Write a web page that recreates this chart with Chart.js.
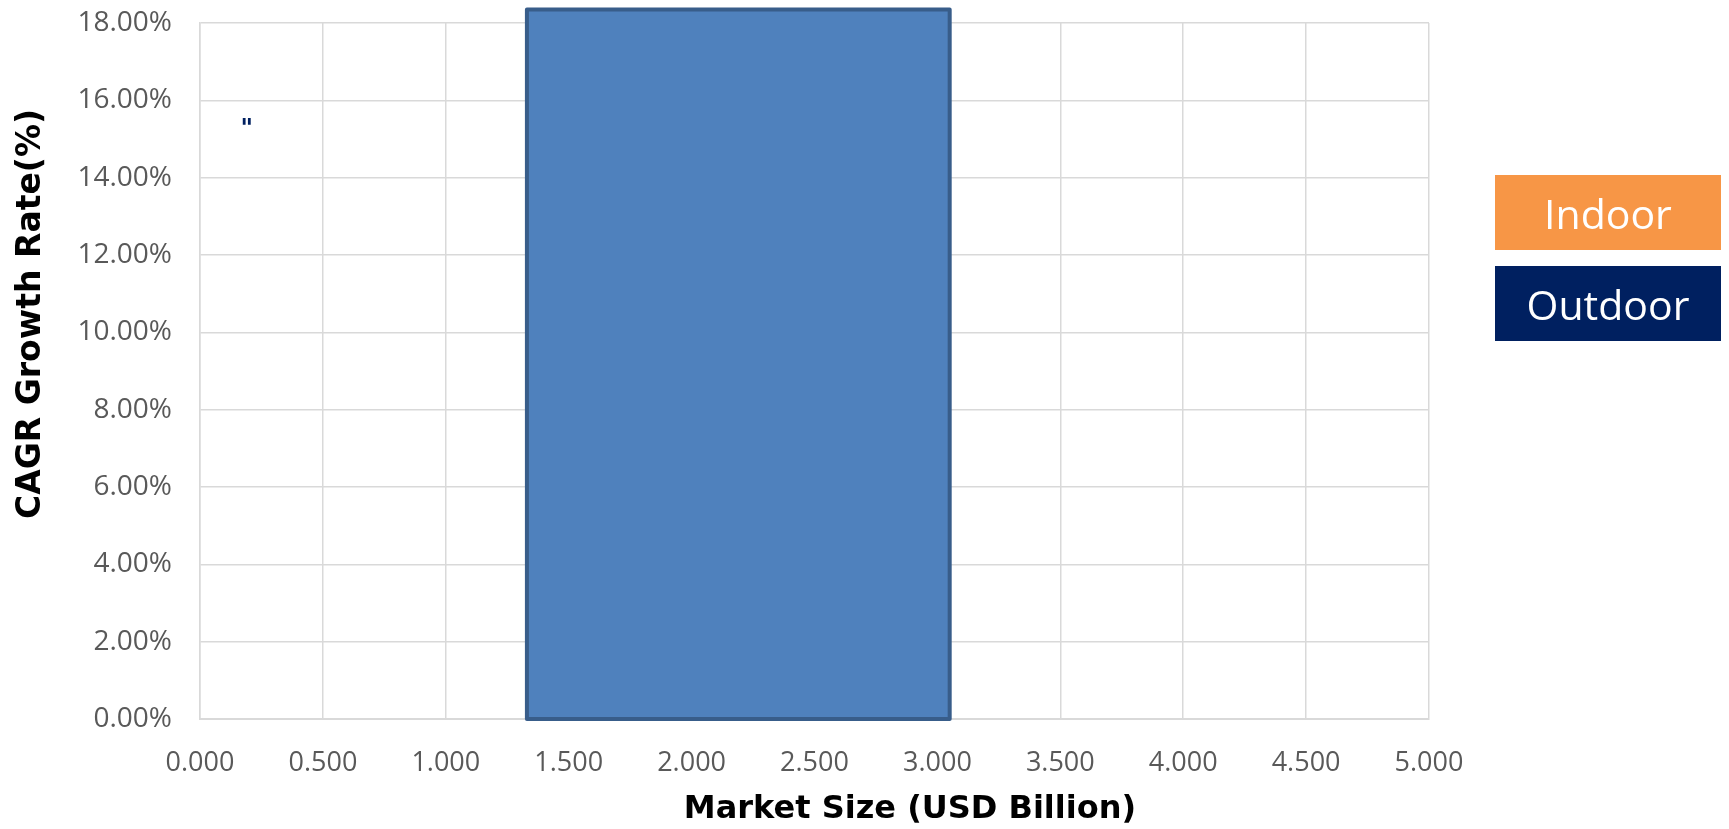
<!DOCTYPE html>
<html lang="en">
<head>
    <meta charset="UTF-8">
    <title>CAGR vs Market Size</title>
    <style>
        body {
            margin: 0;
            padding: 0;
            background: #fff;
            overflow: hidden;
        }
        .wrap {
            position: relative;
            width: 1729px;
            height: 829px;
        }
        .legend {
            position: absolute;
            left: 1495px;
            top: 175px;
            width: 226px;
        }
        .legend-item {
            height: 75px;
            margin-bottom: 16px;
            color: #fff;
            font-family: 'Open Sans', Arial, sans-serif;
            font-size: 41px;
            display: flex;
            align-items: center;
            justify-content: center;
        }
    </style>
</head>
<body>
    <div class="wrap">
        <canvas id="chart" width="1729" height="829"></canvas>
        <div class="legend" id="legend"></div>
    </div>
    <script src="https://cdn.jsdelivr.net/npm/chart.js"></script>
    <script>
    // series shown in the legend
    const seriesNames = ['Indoor', 'Outdoor'];
    const seriesColors = ['#f79646', '#002060'];

    // market block: market size range (USD Billion) and its CAGR height (%)
    const marketStart = [1.33];
    const marketEnd = [3.05];
    const marketCagr = [18.35];

    // small data label sitting near the top left
    const labelX = [0.19];
    const labelY = [15.46];
    const labelText = ['"'];

    // axes
    const xTicks = [0, 0.5, 1, 1.5, 2, 2.5, 3, 3.5, 4, 4.5, 5];
    const yTicks = [0, 2, 4, 6, 8, 10, 12, 14, 16, 18];

    // legend boxes
    const legendEl = document.getElementById('legend');
    seriesNames.forEach((name, i) => {
        const d = document.createElement('div');
        d.className = 'legend-item';
        d.style.background = seriesColors[i];
        d.textContent = name;
        legendEl.appendChild(d);
    });

    // block drawn from the data through the chart scales (not clipped at the top)
    const blockPlugin = {
        id: 'blockPlugin',
        beforeDatasetsDraw(chart) {
            const { ctx, scales } = chart;
            ctx.save();
            marketStart.forEach((x0, i) => {
                const left = scales.x.getPixelForValue(x0);
                const right = scales.x.getPixelForValue(marketEnd[i]);
                const top = scales.y.getPixelForValue(marketCagr[i]);
                const bottom = scales.y.getPixelForValue(0);
                ctx.beginPath();
                ctx.rect(left, top, right - left, bottom - top);
                ctx.fillStyle = '#4f81bd';
                ctx.fill();
                ctx.lineWidth = 4;
                ctx.lineJoin = 'round';
                ctx.strokeStyle = '#385d8a';
                ctx.stroke();
            });
            ctx.restore();
        }
    };

    // draws point labels and the two axis titles
    const textPlugin = {
        id: 'textPlugin',
        afterDatasetsDraw(chart) {
            const ctx = chart.ctx;
            const meta = chart.getDatasetMeta(0);
            const size = 24;
            ctx.save();
            ctx.fillStyle = '#002060';
            ctx.font = 'italic bold ' + size + 'px "DejaVu Sans", sans-serif';
            ctx.textAlign = 'center';
            ctx.textBaseline = 'alphabetic';
            meta.data.forEach((pt, i) => {
                // the quote glyph sits high in the em box, so shift it down onto the point
                ctx.fillText(labelText[i], pt.x, pt.y + size * 0.6);
            });
            ctx.restore();
        },
        afterDraw(chart) {
            const ctx = chart.ctx;
            ctx.save();
            ctx.fillStyle = '#000';
            ctx.textAlign = 'center';
            ctx.textBaseline = 'middle';
            ctx.font = 'bold 32px "DejaVu Sans", sans-serif';
            ctx.fillText('Market Size (USD Billion)', 910, 810);
            ctx.translate(31, 314);
            ctx.rotate(-Math.PI / 2);
            ctx.font = 'bold 33px "DejaVu Sans", sans-serif';
            ctx.fillText('CAGR Growth Rate(%)', 0, 0);
            ctx.restore();
        }
    };

    const tickFont = { family: "'Open Sans', Arial, sans-serif", size: 27 };

    new Chart(document.getElementById('chart'), {
        type: 'scatter',
        data: {
            datasets: [
                {
                    label: 'Outdoor',
                    data: labelX.map((x, i) => ({ x: x, y: labelY[i] })),
                    pointRadius: 0,
                    backgroundColor: '#002060'
                }
            ]
        },
        options: {
            responsive: false,
            animation: false,
            layout: { padding: { top: 23, right: 300, left: 0, bottom: 0 } },
            plugins: {
                legend: { display: false },
                tooltip: { enabled: false }
            },
            scales: {
                x: {
                    type: 'linear',
                    min: 0,
                    max: 5,
                    afterBuildTicks: (s) => { s.ticks = xTicks.map(v => ({ value: v })); },
                    afterFit: (s) => { s.height = 110; s.paddingLeft = 0; s.paddingRight = 0; },
                    ticks: {
                        color: '#595959',
                        font: tickFont,
                        padding: 28,
                        callback: (v) => v.toFixed(3)
                    },
                    grid: { color: '#d9d9d9', lineWidth: 1.5, drawTicks: false },
                    border: { color: '#d9d9d9', width: 2 }
                },
                y: {
                    type: 'linear',
                    min: 0,
                    max: 18,
                    afterBuildTicks: (s) => { s.ticks = yTicks.map(v => ({ value: v })); },
                    afterFit: (s) => { s.width = 200; s.paddingTop = 0; s.paddingBottom = 0; },
                    ticks: {
                        color: '#595959',
                        font: { family: "'Open Sans', Arial, sans-serif", size: 28 },
                        padding: 28,
                        callback: (v) => v.toFixed(2) + '%'
                    },
                    grid: { color: '#d9d9d9', lineWidth: 1.5, drawTicks: false },
                    border: { color: '#d9d9d9', width: 1.5 }
                }
            }
        },
        plugins: [blockPlugin, textPlugin]
    });
    </script>
</body>
</html>
